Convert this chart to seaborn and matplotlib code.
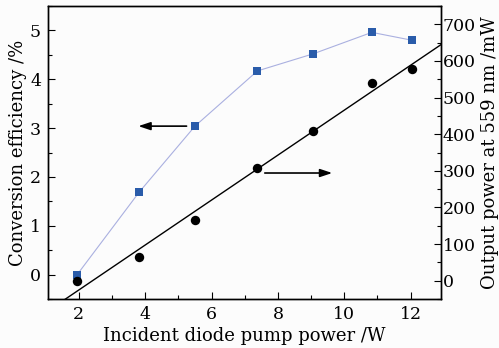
import numpy as np
import pandas as pd
import matplotlib
matplotlib.use("Agg")
import matplotlib.pyplot as plt
from matplotlib.ticker import MultipleLocator
import seaborn as sns

pump_power = [1.95, 3.82, 5.5, 7.38, 9.06, 10.83, 12.03]
efficiency = [0.0, 1.69, 3.04, 4.17, 4.52, 4.96, 4.80]
output_power = [0, 64, 167, 307, 410, 540, 579]

sns.set_style("ticks")
plt.rcParams['font.family'] = ['DejaVu Serif']
plt.rcParams['mathtext.fontset'] = 'dejavuserif'
plt.rcParams['text.color'] = 'black'
plt.rcParams['axes.labelcolor'] = 'black'
plt.rcParams['xtick.color'] = 'black'
plt.rcParams['ytick.color'] = 'black'
plt.rcParams['axes.edgecolor'] = 'black'

df = pd.DataFrame({"pump": pump_power, "eff": efficiency, "out": output_power})

fig = plt.figure(figsize=(4.99, 3.48), dpi=100)
fig.patch.set_facecolor("#fcfcfc")
ax = fig.add_axes([48/499, 1-299/348, (441.5-48)/499, (299-6)/348])
ax.set_facecolor("#fcfcfc")
ax2 = ax.twinx()

ax.set_xlim(1.07, 12.93)
ax.set_ylim(-0.5, 5.5)
ax2.set_ylim(-50, 750)

sns.lineplot(data=df, x="pump", y="eff", ax=ax, color="#aab0e0", lw=0.8, zorder=2)
sns.scatterplot(data=df, x="pump", y="eff", ax=ax, marker="s", s=36, color="#2a5caa",
                edgecolor="#2a5caa", linewidth=0, zorder=3)

sns.regplot(data=df, x="pump", y="out", ax=ax2, ci=None, truncate=False,
            scatter_kws=dict(s=46, color="black", alpha=1, linewidths=0, zorder=3),
            line_kws=dict(color="black", lw=1.0, zorder=2))
ax2.set_ylim(-50, 750)
ax.set_xlim(1.07, 12.93)

ax.annotate("", xy=(3.71, 3.04), xytext=(5.33, 3.04),
            arrowprops=dict(arrowstyle="-|>,head_length=0.6,head_width=0.2",
                            color="black", lw=1.2, mutation_scale=12))
ax2.annotate("", xy=(9.72, 294), xytext=(7.52, 294),
             arrowprops=dict(arrowstyle="-|>,head_length=0.6,head_width=0.2",
                             color="black", lw=1.2, mutation_scale=12))

ax.set_xticks([2, 4, 6, 8, 10, 12])
ax.xaxis.set_minor_locator(MultipleLocator(1))
ax.set_yticks([0, 1, 2, 3, 4, 5])
ax.yaxis.set_minor_locator(MultipleLocator(0.5))
ax2.set_yticks([0, 100, 200, 300, 400, 500, 600, 700])
ax2.yaxis.set_minor_locator(MultipleLocator(50))

for a in (ax, ax2):
    a.tick_params(which="both", direction="in", labelsize=12.5, width=0.8, colors="black")
    a.tick_params(which="major", length=5)
    a.tick_params(which="minor", length=3)
    for s in a.spines.values():
        s.set_linewidth(1.0)
        s.set_visible(True)
        s.set_color("black")
ax.tick_params(axis="y", pad=5)
ax.tick_params(axis="x", pad=5)
ax2.tick_params(axis="y", pad=1)

ax.set_xlabel("Incident diode pump power /W", fontsize=13, labelpad=3)
ax.set_ylabel("Conversion efficiency /%", fontsize=13, labelpad=2)
ax2.set_ylabel("Output power at 559 nm /mW", fontsize=13, labelpad=3.5)

fig.savefig("out.png", dpi=100, facecolor=fig.get_facecolor())
